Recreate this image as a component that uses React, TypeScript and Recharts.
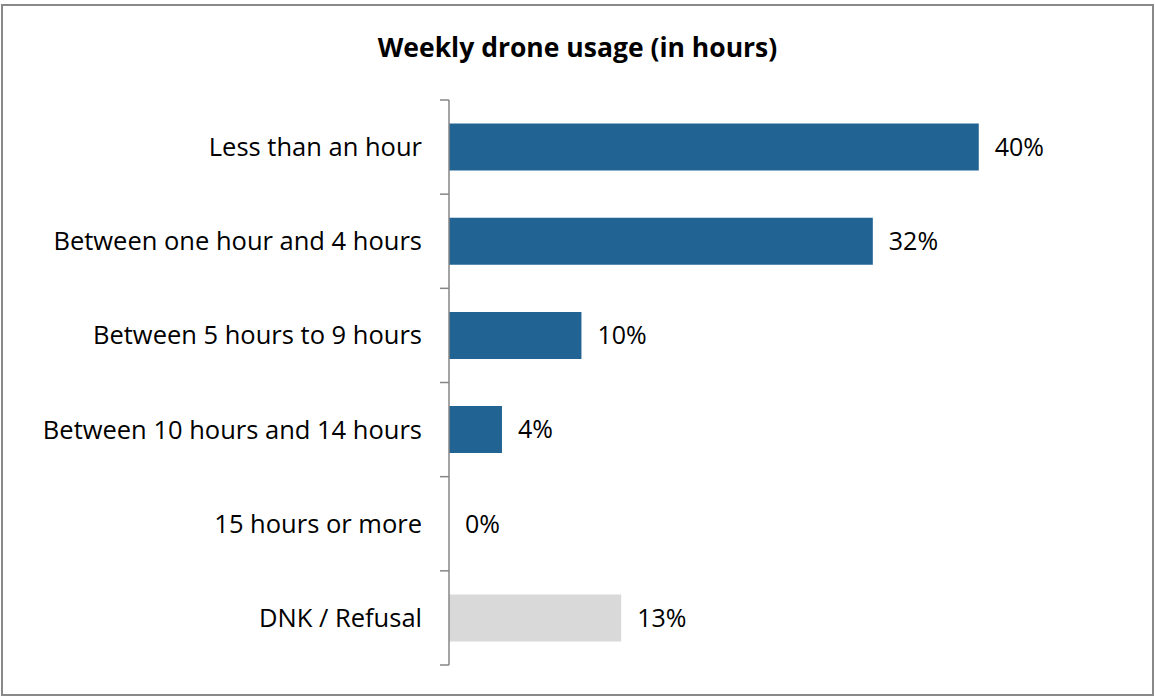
import React from 'react';
import { BarChart, Bar, XAxis, YAxis, Cell, LabelList } from 'recharts';

// Weekly drone usage survey answers (share of respondents, %)
const categories = [
  'Less than an hour',
  'Between one hour and 4 hours',
  'Between 5 hours to 9 hours',
  'Between 10 hours and 14 hours',
  '15 hours or more',
  'DNK / Refusal',
];
const shares = [40, 32, 10, 4, 0, 13];

const BAR_BLUE = '#216494';
const REFUSAL_GRAY = '#d9d9d9';
const AXIS_GRAY = '#868686';
const FONT = '"Open Sans", sans-serif';

const chartData = categories.map((name, i) => ({ name, value: shares[i] }));

// category label plus the small tick marks Excel puts between categories
const CategoryTick = (props: any) => {
  const { x, y, payload, index } = props;
  const half = payload && payload.offset ? payload.offset : 0;
  const axisX = x + 18 + 9;
  return (
    <g>
      <text
        x={x}
        y={y - 1}
        textAnchor="end"
        dominantBaseline="central"
        fontFamily={FONT}
        fontSize={25.5}
        fill="#000"
      >
        {payload.value}
      </text>
      <line x1={axisX - 9} x2={axisX} y1={y - half} y2={y - half} stroke={AXIS_GRAY} strokeWidth={1.5} />
      {index === categories.length - 1 && (
        <line x1={axisX - 9} x2={axisX} y1={y + half} y2={y + half} stroke={AXIS_GRAY} strokeWidth={1.5} />
      )}
    </g>
  );
};

export default function App() {
  return (
    <div style={{ position: 'absolute', left: 0, top: 0, width: 1155, height: 696, background: '#fff' }}>
      <div
        style={{
          position: 'absolute',
          left: 1,
          top: 4,
          width: 1153,
          height: 692,
          boxSizing: 'border-box',
          border: '2px solid #898989',
        }}
      />
      <div
        style={{
          position: 'absolute',
          left: 0,
          top: 29,
          width: 1155,
          textAlign: 'center',
          fontFamily: FONT,
          fontWeight: 700,
          fontSize: 26.5,
          lineHeight: '36px',
          color: '#000',
        }}
      >
        Weekly drone usage (in hours)
      </div>
      <div style={{ position: 'absolute', left: 0, top: 0 }}>
        <BarChart
          width={1155}
          height={696}
          data={chartData}
          layout="vertical"
          margin={{ top: 100, right: 110, bottom: 31, left: 0 }}
          barCategoryGap="25%"
        >
          <XAxis type="number" domain={[0, 45]} hide />
          <YAxis
            type="category"
            dataKey="name"
            width={449}
            axisLine={{ stroke: AXIS_GRAY, strokeWidth: 1.5 }}
            tickLine={false}
            tickSize={9}
            tickMargin={18}
            tick={<CategoryTick />}
            interval={0}
          />
          <Bar dataKey="value" isAnimationActive={false} minPointSize={0.01}>
            {chartData.map((entry, i) => (
              <Cell key={`cell-${i}`} fill={entry.name === 'DNK / Refusal' ? REFUSAL_GRAY : BAR_BLUE} />
            ))}
            <LabelList
              dataKey="value"
              position="right"
              offset={16}
              formatter={(v: any) => `${v}%`}
              style={{ fontFamily: FONT, fontSize: 25, fill: '#000' }}
            />
          </Bar>
        </BarChart>
      </div>
    </div>
  );
}
